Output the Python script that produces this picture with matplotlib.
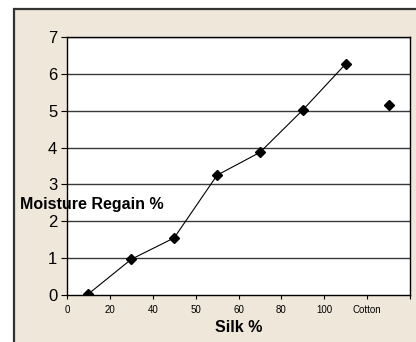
import matplotlib as mpl
import matplotlib.pyplot as plt
from matplotlib.patches import Rectangle

mpl.rcParams['font.family'] = ['Liberation Sans', 'DejaVu Sans']

# moisture regain for silk/cotton blends
categories = ['0', '20', '40', '50', '60', '80', '100', 'Cotton']
blend_regain = [0.03, 0.97, 1.55, 3.25, 3.87, 5.02, 6.27]
cotton_regain = 5.15

fig = plt.figure(figsize=(4.16, 3.42), dpi=100)
fig.patch.set_facecolor('white')

# beige chart-area frame, running off the right and bottom edges
frame = Rectangle((13.5 / 416, -0.05), 1.0, 1 - 8.5 / 342 + 0.05,
                  transform=fig.transFigure, facecolor='#EEE7DA',
                  edgecolor='#333333', linewidth=1.6, zorder=-1)
fig.patches.append(frame)

ax = fig.add_axes((67 / 416, 47 / 342, 343 / 416, 258 / 342))
ax.set_facecolor('white')
ax.set_zorder(1)

xs = [i + 0.5 for i in range(len(blend_regain))]
ax.plot(xs, blend_regain, color='black', linewidth=0.8,
        marker='D', markersize=5.5, zorder=3)
ax.plot([len(categories) - 0.5], [cotton_regain], color='black',
        linestyle='none', marker='D', markersize=5.5, zorder=3)

ax.set_xlim(0, len(categories))
ax.set_ylim(0, 7)
for yv in range(1, 8):
    ax.axhline(yv, color='#3a3a3a', linewidth=1.0, zorder=1)

ax.set_xticks(range(len(categories) + 1))
ax.set_xticklabels(categories + [''])
ax.set_yticks(range(8))
ax.tick_params(axis='x', direction='out', length=3, labelsize=7,
               pad=4, colors='black')
ax.tick_params(axis='y', direction='out', length=4, labelsize=12,
               pad=3)

for s in ax.spines.values():
    s.set_color('black')
    s.set_linewidth(1.0)

ax.set_xlabel('Silk %', fontsize=11.5, fontweight='bold', labelpad=4)
fig.text(20 / 416, 1 - 204 / 342, 'Moisture Regain %', fontsize=11.5,
         fontweight='bold', ha='left', va='center', zorder=2)

fig.savefig('out.png', dpi=100)
